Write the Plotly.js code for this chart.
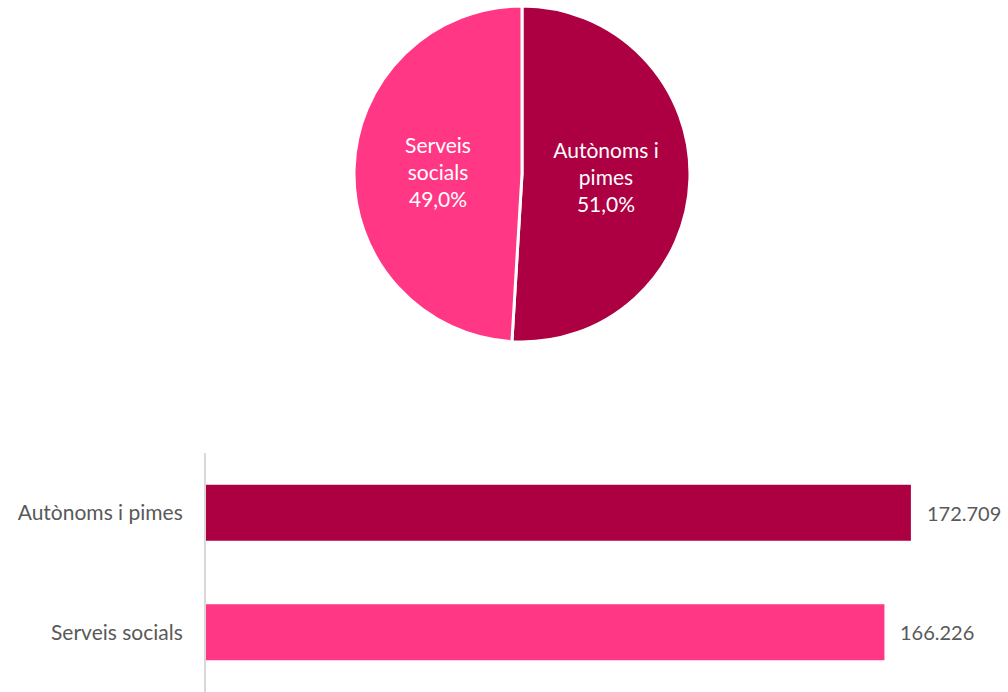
<!DOCTYPE html>
<html>
<head>
<meta charset="utf-8">
<script src="https://cdn.plot.ly/plotly-3.0.1.min.js"></script>
<style>html,body{margin:0;padding:0;background:#fff;}#chart{width:1008px;height:692px;}</style>
</head>
<body>
<div id="chart"></div>
<script>
// Data
const categories = ["Autònoms i pimes", "Serveis socials"];
const pieLabelText = ["Autònoms i<br>pimes", "Serveis<br>socials"];
const values = [172709, 166226];
const colors = ["#AD0042", "#FF3784"];

const font = "Lato, 'Open Sans', sans-serif";

const pie = {
  type: "pie",
  labels: categories,
  values: values,
  text: pieLabelText,
  sort: false,
  direction: "clockwise",
  rotation: 0,
  marker: {colors: colors, line: {color: "#ffffff", width: 3}},
  texttemplate: "%{text}<br>%{percent:.1%}",
  textposition: "inside",
  insidetextorientation: "horizontal",
  textfont: {family: font, size: 21, color: "#ffffff"},
  hoverinfo: "none",
  showlegend: false,
  domain: {x: [354/1008, 690/1008], y: [1 - 342/692, 1 - 6/692]}
};

const bar = {
  type: "bar",
  orientation: "h",
  y: categories,
  x: values,
  marker: {color: colors},
  hoverinfo: "none",
  showlegend: false,
  xaxis: "x",
  yaxis: "y"
};

const annotations = categories.map((c, i) => ({
  x: values[i], y: c, xref: "x", yref: "y",
  text: values[i].toLocaleString("de-DE"),
  showarrow: false, xanchor: "left", xshift: 14,
  font: {family: font, size: 20, color: "#595959"}
}));

const layout = {
  width: 1008, height: 692,
  margin: {l: 0, r: 0, t: 0, b: 0},
  paper_bgcolor: "#ffffff", plot_bgcolor: "#ffffff",
  separators: ",.",
  font: {family: font, color: "#595959"},
  bargap: 0.53,
  xaxis: {
    domain: [206/1008, 1], range: [0, 196500],
    showgrid: false, zeroline: false, showticklabels: false, showline: false, fixedrange: true
  },
  yaxis: {
    domain: [0, 1 - 453/692],
    autorange: "reversed",
    showgrid: false, zeroline: false,
    showline: true, linecolor: "#D9D9D9", linewidth: 2,
    ticks: "", ticklabelstandoff: 17,
    tickfont: {family: font, size: 21, color: "#595959"}
  },
  annotations: annotations
};

Plotly.newPlot("chart", [pie, bar], layout, {displayModeBar: false, staticPlot: true});
</script>
</body>
</html>
